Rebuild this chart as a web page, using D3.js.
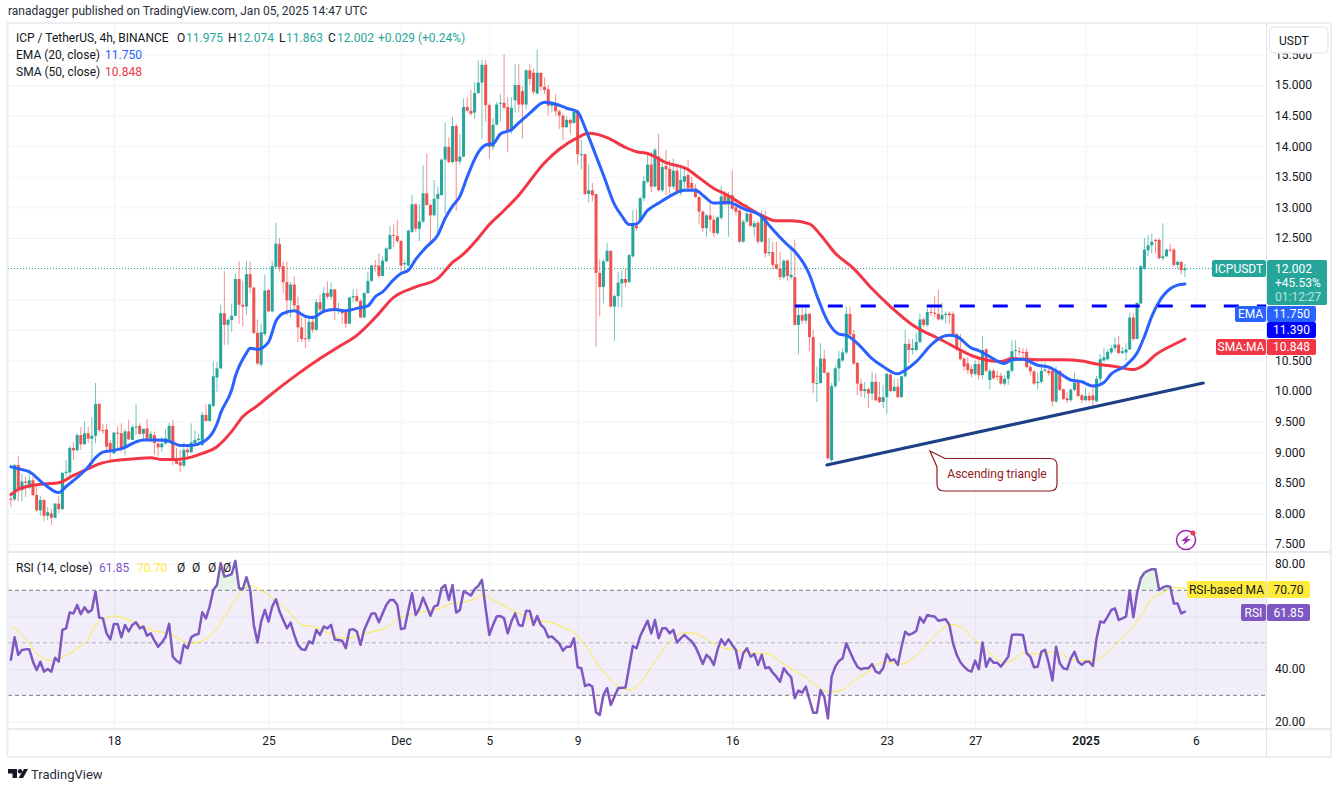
<!DOCTYPE html>
<html>
<head>
<meta charset="utf-8">
<script src="https://d3js.org/d3.v7.min.js"></script>
<style>
  html, body { margin: 0; background: #fff; }
  svg { display: block; }
  text { font-family: Roboto, sans-serif; font-size: 12px; fill: #131722; }
  .tick text { font-family: Roboto, sans-serif; font-size: 12px; fill: #131722; }
  .domain { display: none; }
  .grid line { stroke: #f0f3fa; stroke-width: 1; }
</style>
</head>
<body>
<script>
// 4h candles, index 0 is Nov 13 08:00
var opens = [
8.24,8.23,8.79,8.38,8.52,8.42,8.54,8.30,8.05,8.22,
7.96,8.00,7.93,8.16,8.07,8.66,8.67,9.07,9.03,9.28,
9.13,9.31,9.22,9.27,9.79,9.36,9.37,9.15,8.98,9.32,
9.31,9.07,9.34,9.20,9.41,9.43,9.30,9.39,9.22,9.28,
9.14,9.08,9.14,9.20,9.43,8.88,8.84,8.78,9.04,9.00,
9.15,9.20,9.12,9.61,9.51,9.75,10.22,10.37,11.27,11.08,
11.16,11.23,11.83,11.41,11.38,11.91,11.69,10.95,10.43,10.93,
11.65,11.30,12.03,12.40,12.04,11.78,11.48,11.74,11.40,11.04,
10.86,10.85,11.13,11.00,11.45,11.30,11.60,11.54,11.66,11.33,
11.30,11.30,11.10,11.53,11.55,11.47,11.20,11.60,11.80,12.05,
12.05,11.88,12.12,12.32,12.55,12.53,12.45,12.07,12.05,12.60,
13.05,12.65,12.77,13.23,13.04,12.87,13.14,13.20,13.78,13.99,
13.74,14.33,13.75,13.83,14.64,14.58,14.55,14.87,15.04,15.33,
14.67,13.99,14.35,14.70,14.71,14.64,14.25,14.75,15.00,14.90,
14.68,15.24,15.20,14.86,15.20,14.97,14.93,14.66,14.70,14.57,
14.50,14.31,14.43,14.38,14.58,13.87,13.87,13.22,13.28,13.22,
11.93,11.70,12.12,12.29,11.38,11.55,11.76,11.83,11.78,12.20,
12.70,12.77,13.15,13.42,13.70,13.34,13.83,13.28,13.68,13.63,
13.34,13.60,13.24,13.42,13.53,13.40,13.31,13.17,12.93,12.66,
12.87,12.80,12.58,12.83,13.20,13.05,13.20,13.00,12.95,12.44,
12.77,12.90,12.68,12.75,12.44,12.84,12.25,12.27,12.07,12.00,
11.86,12.13,11.86,11.86,11.08,11.24,11.15,11.26,10.88,10.13,
10.13,10.53,10.30,8.87,10.08,10.37,10.50,10.63,11.26,10.93,
10.46,10.12,10.00,10.03,9.96,10.15,9.90,9.82,9.90,10.27,
10.00,10.07,9.90,10.24,10.77,10.67,10.67,10.80,11.17,11.08,
11.29,11.28,11.26,11.17,11.24,11.27,11.26,10.93,10.68,10.53,
10.45,10.36,10.28,10.44,10.26,10.68,10.18,10.33,10.25,10.25,
10.12,10.20,10.33,10.66,10.65,10.64,10.64,10.39,10.32,10.13,
10.15,10.33,10.33,10.33,9.83,10.33,10.03,9.88,9.85,10.02,
10.18,9.93,9.85,9.92,9.93,9.83,10.20,10.50,10.52,10.63,
10.70,10.76,10.62,10.63,10.68,11.20,10.85,11.43,12.00,12.30,
12.38,12.47,12.47,12.17,12.20,12.31,12.31,12.06,12.11,11.975];
var highs = [
8.33,8.81,8.93,8.65,8.60,8.72,8.60,8.47,8.28,8.23,
8.11,8.08,8.17,8.29,8.68,8.87,9.10,9.16,9.32,9.41,
9.50,9.42,9.57,10.13,9.80,9.46,9.46,9.20,9.33,9.42,
9.47,9.37,9.53,9.45,9.79,9.47,9.39,9.54,9.34,9.34,
9.18,9.25,9.37,9.48,9.53,9.07,9.04,9.16,9.10,9.47,
9.36,9.30,9.66,9.78,9.80,10.48,10.48,11.41,11.96,11.19,
11.43,11.92,12.12,11.80,12.12,12.11,11.70,11.17,11.10,11.90,
11.66,12.13,12.75,12.50,12.11,12.11,11.78,11.87,11.54,11.20,
11.20,11.20,11.24,11.50,11.57,11.70,11.79,11.77,11.67,11.45,
11.32,11.31,11.54,11.67,11.67,11.50,11.61,11.95,12.06,12.14,
12.25,12.20,12.35,12.70,12.72,12.80,12.47,12.14,12.64,13.20,
13.07,13.05,13.69,13.88,13.07,13.45,13.33,13.80,14.38,14.14,
14.48,14.37,14.20,14.78,14.80,14.92,15.05,15.40,15.41,15.41,
14.70,14.46,14.72,14.85,15.50,14.80,14.80,15.34,15.34,14.98,
15.26,15.35,15.27,15.58,15.20,15.12,15.00,14.74,14.85,14.60,
14.53,14.50,14.45,14.60,14.60,14.10,13.88,13.70,13.40,13.22,
12.15,12.15,12.42,12.30,11.58,11.95,11.97,12.00,12.24,12.96,
12.96,13.18,13.52,13.90,13.90,13.97,14.20,13.80,13.94,13.77,
13.80,13.72,13.70,13.66,13.77,13.50,13.38,13.18,12.95,12.90,
13.07,12.87,12.85,13.35,13.27,13.25,13.60,13.10,12.98,12.80,
13.06,13.00,12.78,12.78,12.95,12.95,12.50,12.44,12.44,12.27,
12.15,12.15,12.35,12.47,11.38,11.38,11.38,11.27,11.00,10.40,
10.78,10.67,10.32,10.13,10.42,10.65,10.70,11.38,11.38,11.00,
10.47,10.20,10.15,10.05,10.32,10.29,10.15,10.10,10.30,10.35,
10.20,10.20,10.25,11.00,10.85,10.85,10.95,11.27,11.20,11.35,
11.40,11.55,11.65,11.44,11.30,11.30,11.30,10.95,10.93,10.55,
10.55,10.42,10.50,10.50,10.90,10.70,10.36,10.36,10.33,10.30,
10.26,10.35,10.83,10.83,10.72,10.70,10.70,10.45,10.35,10.30,
10.45,10.47,10.40,10.35,10.40,10.34,10.04,9.98,10.05,10.30,
10.20,9.95,10.05,9.98,10.06,10.25,10.60,10.70,10.68,10.75,
10.88,10.90,10.72,10.78,11.28,11.27,11.45,12.06,12.50,12.55,
12.57,12.49,12.50,12.74,12.33,12.41,12.33,12.13,12.13,12.074];
var lows = [
8.10,8.20,8.20,8.20,8.27,8.39,8.28,8.03,7.96,7.87,
7.89,7.81,7.92,8.00,8.05,8.60,8.60,8.87,9.02,9.04,
9.12,9.15,8.87,9.15,9.33,9.30,9.04,8.87,8.97,9.04,
9.00,8.95,9.20,9.20,9.28,9.28,9.22,9.20,9.16,8.96,
8.93,9.01,9.13,9.19,8.79,8.80,8.67,8.76,8.88,8.98,
9.13,9.12,9.10,9.50,9.50,9.75,9.99,10.36,10.75,10.76,
10.97,11.22,11.10,11.05,11.24,11.60,10.93,10.42,10.40,10.90,
11.30,11.28,12.00,11.95,11.60,11.24,11.20,11.30,10.80,10.80,
10.70,10.80,10.95,10.98,11.27,11.28,11.50,11.50,11.16,11.26,
11.10,11.03,11.10,11.45,11.44,11.20,11.20,11.58,11.78,11.95,
11.85,11.87,12.10,12.30,12.35,12.42,11.95,11.95,12.03,12.58,
12.60,12.45,12.75,13.02,12.40,12.85,12.52,13.20,12.90,13.72,
13.72,12.95,13.70,13.82,14.55,14.50,14.45,14.85,14.12,14.40,
13.80,13.94,14.34,14.40,14.60,13.90,14.20,14.55,14.55,14.13,
14.60,15.00,14.85,14.85,14.90,14.85,14.50,14.55,14.50,14.28,
14.10,14.30,14.20,14.37,13.70,13.62,13.20,13.08,13.10,10.72,
11.22,11.43,12.10,11.36,10.82,11.37,11.36,11.70,11.77,12.18,
12.62,12.75,13.10,13.40,13.25,13.33,13.26,13.25,13.20,13.18,
13.30,13.20,13.20,13.30,13.28,13.28,13.15,12.73,12.60,12.52,
12.60,12.52,12.55,12.80,13.03,12.52,12.95,12.87,12.42,12.42,
12.75,12.68,12.52,12.40,12.42,12.18,12.20,12.00,11.98,11.81,
11.83,11.80,11.82,11.07,10.60,11.10,11.10,10.65,9.97,9.82,
10.12,10.28,8.87,8.84,10.05,10.15,10.47,10.60,10.90,10.43,
9.93,9.90,9.88,9.72,9.85,9.83,9.80,9.72,9.63,9.98,
9.98,9.88,9.89,10.22,10.46,10.60,10.65,10.78,11.05,11.05,
11.22,11.20,11.15,11.15,11.10,11.10,10.90,10.65,10.50,10.33,
10.28,10.22,10.25,10.18,10.20,10.30,10.03,10.18,10.17,10.10,
10.08,10.10,10.30,10.55,10.58,10.55,10.37,10.25,10.10,10.03,
10.12,10.30,10.25,9.75,9.80,10.00,9.85,9.80,9.82,10.00,
9.90,9.80,9.83,9.82,9.72,9.82,10.15,10.48,10.50,10.60,
10.65,10.60,10.60,10.50,10.67,10.82,10.85,11.42,11.98,12.20,
12.25,12.25,12.15,12.13,12.19,12.27,12.03,12.00,11.90,11.863];
var closes = [
8.22,8.79,8.38,8.52,8.50,8.54,8.30,8.05,8.22,7.96,
8.02,7.93,8.16,8.07,8.66,8.68,9.07,9.03,9.28,9.13,
9.31,9.22,9.27,9.79,9.36,9.35,9.09,9.04,9.32,9.31,
9.05,9.34,9.21,9.41,9.42,9.30,9.38,9.22,9.30,9.15,
9.08,9.14,9.23,9.43,8.88,8.81,8.78,9.04,9.00,9.16,
9.20,9.22,9.61,9.51,9.78,10.24,10.37,11.27,11.08,11.16,
11.23,11.83,11.41,11.38,11.91,11.69,10.95,10.45,10.96,11.64,
11.30,12.04,12.41,12.02,11.78,11.48,11.74,11.40,11.04,10.85,
10.85,11.13,11.00,11.45,11.33,11.60,11.54,11.66,11.33,11.33,
11.27,11.10,11.53,11.55,11.47,11.20,11.60,11.80,12.05,12.04,
11.88,12.13,12.33,12.55,12.54,12.45,12.05,12.09,12.62,13.05,
12.65,12.77,13.23,13.04,12.87,13.14,13.22,13.78,13.99,13.74,
14.33,13.75,13.83,14.64,14.58,14.53,14.87,15.04,15.33,14.67,
13.99,14.35,14.68,14.71,14.63,14.25,14.63,15.00,14.68,14.68,
15.24,15.10,14.89,15.20,14.97,14.92,14.66,14.70,14.57,14.50,
14.31,14.43,14.37,14.56,13.87,13.87,13.22,13.28,13.20,11.93,
11.70,12.12,12.29,11.38,11.55,11.77,11.83,11.77,12.22,12.70,
12.66,13.15,13.43,13.70,13.34,13.94,13.28,13.66,13.62,13.34,
13.60,13.24,13.45,13.51,13.31,13.31,13.17,12.93,12.66,12.87,
12.80,12.58,12.84,13.18,13.05,13.19,12.98,12.93,12.44,12.77,
12.90,12.70,12.74,12.44,12.84,12.25,12.27,12.06,12.00,11.86,
12.13,11.88,11.90,11.08,11.24,11.15,11.26,10.88,10.13,10.13,
10.53,10.30,8.90,10.08,10.37,10.53,10.63,11.26,10.92,10.45,
10.12,10.00,10.03,9.96,10.15,9.85,9.82,9.90,10.28,10.00,
10.07,9.90,10.24,10.77,10.67,10.70,10.80,11.17,11.08,11.29,
11.28,11.26,11.17,11.24,11.26,11.24,10.93,10.68,10.52,10.40,
10.34,10.28,10.44,10.26,10.67,10.33,10.33,10.21,10.23,10.12,
10.20,10.33,10.65,10.67,10.64,10.62,10.39,10.32,10.12,10.15,
10.33,10.35,10.29,9.83,10.33,10.02,9.87,9.85,10.02,10.13,
9.92,9.85,9.92,9.85,9.85,10.20,10.52,10.55,10.64,10.70,
10.76,10.62,10.65,10.68,11.20,10.85,11.44,12.04,12.31,12.38,
12.44,12.45,12.17,12.20,12.31,12.30,12.06,12.11,11.975,12.002];

var emaAt = [0,2,5,9,13,15,19,21,23,25,28,31,34,36,40,43,46,49,52,55,56,57,60,61,64,65,67,70,72,74,77,80,82,85,88,91,94,97,99,101,104,106,108,110,113,116,118,120,122,124,127,129,131,133,136,138,141,145,148,151,154,156,159,161,164,166,168,170,173,176,179,183,186,188,191,195,199,204,206,211,213,217,219,222,225,227,230,234,237,241,243,246,250,252,255,257,261,263,266,270,272,275,279,282,285,288,291,294,297,299,303,306,308,310,312,315,317,319];
var emaValues = [8.76,8.73,8.68,8.48,8.34,8.44,8.64,8.76,8.91,9.0,9.03,9.08,9.17,9.2,9.2,9.18,9.11,9.11,9.16,9.34,9.46,9.64,10.02,10.24,10.62,10.7,10.68,10.8,11.14,11.27,11.31,11.22,11.2,11.3,11.33,11.31,11.35,11.39,11.54,11.62,11.82,11.92,11.97,12.15,12.36,12.55,12.82,13.02,13.18,13.5,13.9,14.02,14.04,14.2,14.27,14.38,14.54,14.72,14.69,14.62,14.56,14.3,13.84,13.53,13.05,12.86,12.72,12.73,12.95,13.07,13.18,13.28,13.28,13.2,13.07,13.08,12.98,12.85,12.71,12.39,12.28,11.9,11.56,11.13,10.93,10.91,10.78,10.53,10.4,10.28,10.34,10.48,10.75,10.85,10.91,10.89,10.7,10.66,10.56,10.45,10.51,10.52,10.42,10.39,10.29,10.18,10.15,10.08,10.14,10.28,10.42,10.62,10.89,11.22,11.46,11.67,11.73,11.75];

// SMA 50
var smaAt = [0,2,5,9,13,17,21,24,29,33,38,41,45,49,52,56,60,63,67,70,74,78,84,89,94,99,104,110,116,120,123,127,130,134,138,145,149,154,157,162,167,170,173,178,184,186,191,195,199,204,208,212,217,220,224,229,234,239,245,253,257,261,264,269,272,276,281,286,291,295,300,305,308,311,316,319];
var smaValues = [8.31,8.39,8.45,8.48,8.5,8.62,8.73,8.81,8.87,8.89,8.91,8.88,8.88,8.92,8.98,9.09,9.34,9.58,9.76,9.91,10.1,10.28,10.53,10.72,10.91,11.2,11.53,11.7,11.84,12.1,12.24,12.5,12.72,12.95,13.2,13.73,13.95,14.14,14.21,14.14,13.98,13.91,13.88,13.73,13.62,13.53,13.31,13.19,13.04,12.87,12.78,12.78,12.73,12.55,12.25,12.0,11.67,11.38,11.08,10.83,10.7,10.58,10.52,10.48,10.53,10.52,10.51,10.51,10.49,10.44,10.4,10.35,10.43,10.59,10.76,10.85];

var rsiValues = [
43.5,52.1,45.4,47.3,47.5,47.5,42.8,39.6,42.8,39.0,
40.0,39.0,44.3,42.8,54.9,55.5,61.6,61.2,64.4,60.9,
63.5,61.6,62.5,69.5,59.6,59.3,53.6,51.3,57.2,57.2,
52.1,56.8,54.3,56.8,57.8,55.5,56.2,52.7,53.6,50.8,
48.5,50.1,52.1,57.2,44.7,43.2,42.2,49.2,47.9,52.1,
53.0,53.4,61.6,59.3,63.8,70.1,72.0,80.3,75.2,75.6,
76.2,81.2,70.8,70.4,75.0,70.4,56.8,50.1,58.1,62.5,
58.1,63.8,66.6,61.9,58.7,55.5,57.7,53.0,49.2,47.5,
47.3,50.5,49.8,54.9,53.0,56.2,55.5,56.8,51.3,51.1,
50.8,47.9,54.9,55.2,54.3,49.2,54.9,58.1,61.2,61.2,
57.8,61.2,64.4,66.3,66.3,64.4,55.2,55.5,62.5,68.9,
60.6,63.1,67.2,63.8,60.3,63.8,64.4,70.8,72.0,66.3,
72.0,61.5,62.5,69.5,68.9,68.0,70.4,71.7,74.0,63.1,
53.0,56.8,60.0,60.2,59.3,53.6,58.1,61.2,56.8,56.4,
62.2,62.1,56.8,60.2,56.8,55.5,52.1,52.4,51.1,49.8,
47.0,48.5,48.5,51.7,40.7,40.3,33.5,34.2,33.3,23.5,
22.5,30.1,32.7,26.3,29.5,32.7,32.9,33.0,40.9,48.8,
47.9,52.6,55.5,58.4,53.6,58.7,51.7,55.5,55.5,53.6,
54.9,50.1,51.7,53.0,51.7,50.5,48.5,45.4,41.9,45.4,
44.1,41.6,47.3,51.3,49.2,51.3,49.2,47.3,40.3,46.0,
47.9,44.7,45.7,41.6,45.4,40.3,40.7,38.6,37.1,35.2,
40.3,38.4,36.9,28.9,31.8,31.0,33.3,28.2,23.4,23.4,
32.0,29.5,21.2,37.1,40.9,43.1,44.1,49.8,46.6,43.5,
40.9,39.9,40.3,40.3,41.9,39.0,38.4,40.3,45.7,43.2,
43.7,41.6,48.5,54.2,53.0,53.6,54.5,59.7,57.7,60.6,
60.2,60.0,58.4,58.7,59.0,56.8,49.8,45.4,42.6,40.9,
39.6,39.0,43.2,39.9,50.1,40.9,44.1,42.4,42.4,40.9,
42.8,44.7,53.0,53.2,53.1,53.0,46.0,44.7,40.7,40.9,
46.6,47.3,42.2,35.6,48.5,42.2,40.3,39.9,44.1,46.6,
42.8,41.6,42.8,42.8,41.2,51.7,58.1,57.7,60.0,62.5,
63.1,58.7,59.3,60.0,69.9,59.7,68.9,74.6,76.7,77.5,
78.0,78.0,70.1,71.1,71.6,71.4,65.0,65.0,61.2,61.85];

var rsiMaAt = [0,1,4,7,11,14,18,21,23,26,28,31,33,36,39,43,46,49,52,56,59,62,65,68,72,76,79,82,85,88,91,95,99,102,105,108,112,116,120,123,126,128,131,135,139,142,146,150,153,156,161,165,168,171,175,179,183,186,190,193,197,201,206,210,215,219,222,226,229,232,236,238,242,245,248,251,254,255,258,261,264,267,270,273,275,279,284,288,291,295,298,302,304,307,310,313,316,319];
var rsiMaValues = [56.3,55.5,51.5,46.0,43.3,44.5,47.9,51.5,56.8,59.6,60.2,59.2,58.2,56.2,54.5,53.6,51.3,49.8,50.8,55.5,62.1,68.4,71.7,70.1,65.9,61.2,56.9,56.2,54.5,52.6,51.7,53.0,54.5,55.8,59.1,60.6,61.9,62.8,65.0,65.4,66.7,68.2,66.4,63.5,60.6,58.4,58.0,55.9,53.9,49.2,39.0,33.6,32.0,34.8,42.8,50.4,53.9,53.6,50.4,48.3,47.3,46.2,45.7,41.8,37.7,33.6,31.3,32.0,35.6,38.1,42.2,42.6,41.9,44.1,47.9,52.6,56.2,57.0,56.2,52.1,48.8,44.7,42.4,44.1,46.2,45.7,46.6,43.8,43.2,43.5,46.6,52.1,54.9,60.2,66.9,69.2,71.1,70.7];

var priceTicks = [7.5,8,8.5,9,9.5,10,10.5,11,11.5,12,12.5,13,13.5,14,14.5,15,15.5];
// the axis tags sit where 11, 11.5, 12 and 60 would be, so those have no label
var priceLabels = [7.5,8,8.5,9,9.5,10,10.5,12.5,13,13.5,14,14.5,15,15.5];
var rsiGrid = [20,40,60,80];
var rsiLabels = [20,40,80];
var dayTicks = [28,70,106,130,154,196,238,262,292,322];
var dayLabels = ['18','25','Dec','5','9','16','23','27','2025','6'];
var resistance = 11.39;
var lastClose = 12.002;
var trendAt = [221.7,324];
var trendValues = [8.79,10.13];

var UP = '#26a69a', DOWN = '#ef5350', BLUE = '#2962ff', RED = '#f23645',
    PURPLE = '#7e57c2', YELLOW = '#ffeb3b', GRIDLINE = '#e0e3eb';

var width = 1338, height = 787;
var left = 8, right = 1266.5, mainTop = 24, mainBottom = 552, rsiBottom = 729, bottom = 757, frameRight = 1331;

var x = d3.scaleLinear().domain([0, 319]).range([10.9, 1184.9]);
var y = d3.scaleLinear().domain([7.5, 15.5]).range([544, 54.4]);
var yRsi = d3.scaleLinear().domain([30, 70]).range([695.3, 590.3]);

var svg = d3.select('body').append('svg').attr('width', width).attr('height', height);

// clips
var defs = svg.append('defs');
defs.append('clipPath').attr('id', 'clipMain').append('rect')
  .attr('x', left).attr('y', mainTop).attr('width', right - left).attr('height', mainBottom - mainTop);
defs.append('clipPath').attr('id', 'clipRsi').append('rect')
  .attr('x', left).attr('y', mainBottom).attr('width', right - left).attr('height', rsiBottom - mainBottom);
defs.append('clipPath').attr('id', 'clipOver').append('rect')
  .attr('x', left).attr('y', mainBottom).attr('width', right - left).attr('height', yRsi(70) - mainBottom);
defs.append('clipPath').attr('id', 'clipUnder').append('rect')
  .attr('x', left).attr('y', yRsi(30)).attr('width', right - left).attr('height', rsiBottom - yRsi(30));
var overGrad = defs.append('linearGradient').attr('id', 'overFill').attr('x1', 0).attr('x2', 0).attr('y1', 0).attr('y2', 1);
overGrad.append('stop').attr('offset', '0%').attr('stop-color', '#4caf50').attr('stop-opacity', 0.16);
overGrad.append('stop').attr('offset', '100%').attr('stop-color', '#4caf50').attr('stop-opacity', 0.02);

// grid, from the axes themselves
svg.append('g').attr('class', 'grid').attr('transform', 'translate(' + left + ',0)')
  .call(d3.axisRight(y).tickValues(priceTicks).tickSize(right - left).tickFormat(''));
svg.append('g').attr('class', 'grid').attr('transform', 'translate(' + left + ',0)')
  .call(d3.axisRight(yRsi).tickValues(rsiGrid).tickSize(right - left).tickFormat(''));
svg.append('g').attr('class', 'grid').attr('transform', 'translate(0,' + mainTop + ')')
  .call(d3.axisBottom(x).tickValues(dayTicks).tickSize(mainBottom - mainTop).tickFormat(''));
svg.append('g').attr('class', 'grid').attr('transform', 'translate(0,' + mainBottom + ')')
  .call(d3.axisBottom(x).tickValues(dayTicks).tickSize(rsiBottom - mainBottom).tickFormat(''));

// last price line
svg.append('line').attr('x1', left).attr('x2', 1212).attr('y1', y(lastClose)).attr('y2', y(lastClose))
  .attr('stroke', UP).attr('stroke-width', 1).attr('stroke-dasharray', '1 2');

// candles
var main = svg.append('g').attr('clip-path', 'url(#clipMain)');
var candles = main.selectAll('g.candle').data(d3.range(closes.length)).enter().append('g').attr('class', 'candle');
candles.append('line')
  .attr('x1', function(i) { return x(i); }).attr('x2', function(i) { return x(i); })
  .attr('y1', function(i) { return y(highs[i]); }).attr('y2', function(i) { return y(lows[i]); })
  .attr('stroke', function(i) { return closes[i] >= opens[i] ? UP : DOWN; })
  .attr('stroke-opacity', 0.65).attr('stroke-width', 1);
candles.append('rect')
  .attr('x', function(i) { return x(i) - 1.5; }).attr('width', 3)
  .attr('y', function(i) { return y(Math.max(opens[i], closes[i])); })
  .attr('height', function(i) { return Math.max(1, Math.abs(y(opens[i]) - y(closes[i]))); })
  .attr('fill', function(i) { return closes[i] >= opens[i] ? UP : DOWN; });

function drawLine(parent, at, values, scale, color, w, curve) {
  var line = d3.line().x(function(d) { return x(d); })
    .y(function(d, i) { return scale(values[i]); }).curve(curve || d3.curveLinear);
  return parent.append('path').attr('d', line(at)).attr('fill', 'none')
    .attr('stroke', color).attr('stroke-width', w).attr('stroke-linejoin', 'round').attr('stroke-linecap', 'round');
}
drawLine(main, smaAt, smaValues, y, RED, 3, d3.curveMonotoneX);
drawLine(main, emaAt, emaValues, y, BLUE, 3, d3.curveMonotoneX);

// resistance and ascending trend line
main.append('line').attr('x1', x(213)).attr('x2', right).attr('y1', y(resistance)).attr('y2', y(resistance))
  .attr('stroke', '#0000ff').attr('stroke-width', 3).attr('stroke-dasharray', '15 18');
drawLine(main, trendAt, trendValues, y, '#1c3f85', 3);

// callout
var co = svg.append('g');
co.append('path')
  .attr('d', 'M945 458.5 L930 451 L937 467 L937 484 Q937 491 944 491 L1050 491 Q1057 491 1057 484 L1057 465.5 Q1057 458.5 1050 458.5 Z')
  .attr('fill', '#fff').attr('stroke', '#8e1b1f').attr('stroke-width', 1.2);
co.append('text').attr('x', 997).attr('y', 478).attr('text-anchor', 'middle')
  .style('font-size', '12px').style('fill', '#8e1b1f').text('Ascending triangle');

// zap icon
var zap = svg.append('g').attr('transform', 'translate(1186,540)');
zap.append('circle').attr('r', 9.5).attr('fill', '#fff').attr('stroke', '#9c27b0').attr('stroke-width', 1.5);
zap.append('path').attr('d', 'M3 -5 L-5 1 L-1 1 L-3 5 L5 -1 L1 -1 Z').attr('fill', '#9c27b0');
zap.append('circle').attr('cx', 7).attr('cy', -7).attr('r', 2.5).attr('fill', RED);

// RSI pane
svg.append('rect').attr('x', left).attr('width', right - left)
  .attr('y', yRsi(70)).attr('height', yRsi(30) - yRsi(70)).attr('fill', PURPLE).attr('fill-opacity', 0.1);
[70, 50, 30].forEach(function(level) {
  svg.append('line').attr('x1', left).attr('x2', right).attr('y1', yRsi(level)).attr('y2', yRsi(level))
    .attr('stroke', '#787b86').attr('stroke-opacity', level === 50 ? 0.5 : 1)
    .attr('stroke-width', 1).attr('stroke-dasharray', '4 3');
});
var rsiPane = svg.append('g').attr('clip-path', 'url(#clipRsi)');
var areaOver = d3.area().x(function(i) { return x(i); }).y0(yRsi(70)).y1(function(i) { return yRsi(rsiValues[i]); });
var idx = d3.range(rsiValues.length);
svg.append('path').attr('clip-path', 'url(#clipOver)').attr('d', areaOver(idx)).attr('fill', 'url(#overFill)');
var areaUnder = d3.area().x(function(i) { return x(i); }).y0(yRsi(30)).y1(function(i) { return yRsi(rsiValues[i]); });
svg.append('path').attr('clip-path', 'url(#clipUnder)').attr('d', areaUnder(idx)).attr('fill', '#ef5350').attr('fill-opacity', 0.06);
drawLine(rsiPane, rsiMaAt, rsiMaValues, yRsi, YELLOW, 1, d3.curveMonotoneX);
drawLine(rsiPane, idx, rsiValues, yRsi, PURPLE, 2.5);

// frame
svg.append('rect').attr('x', 7.5).attr('y', mainTop - 1).attr('width', frameRight - 7.5).attr('height', bottom - mainTop + 1)
  .attr('fill', 'none').attr('stroke', '#eceef3').attr('stroke-width', 2);
[mainBottom, rsiBottom].forEach(function(yy) {
  svg.append('line').attr('x1', left).attr('x2', frameRight).attr('y1', yy).attr('y2', yy)
    .attr('stroke', GRIDLINE).attr('stroke-width', 1.5);
});
svg.append('line').attr('x1', right).attr('x2', right).attr('y1', mainTop).attr('y2', bottom)
  .attr('stroke', GRIDLINE).attr('stroke-width', 1);

// axes
svg.append('g').attr('transform', 'translate(1275,0)')
  .call(d3.axisRight(y).tickValues(priceLabels).tickSize(0).tickPadding(0).tickFormat(d3.format('.3f')));
svg.append('g').attr('transform', 'translate(1275,0)')
  .call(d3.axisRight(yRsi).tickValues(rsiLabels).tickSize(0).tickPadding(0).tickFormat(d3.format('.2f')));
var axisTime = svg.append('g').attr('transform', 'translate(0,736)')
  .call(d3.axisBottom(x).tickValues(dayTicks).tickSize(0).tickPadding(0)
    .tickFormat(function(d, i) { return dayLabels[i]; }));
axisTime.selectAll('text').style('font-weight', function(d, i) { return dayLabels[i] === '2025' ? 600 : 400; });

// USDT button over the top tick
svg.append('rect').attr('x', 1269.5).attr('y', 27).attr('width', 58.5).attr('height', 26).attr('rx', 5)
  .attr('fill', '#fff').attr('stroke', '#e9ebf2').attr('stroke-width', 1.5);
svg.append('text').attr('x', 1279).attr('y', 45).text('USDT');

// price labels on the axis
function tag(x0, y0, w, h, fill, label, color, r) {
  svg.append('rect').attr('x', x0).attr('y', y0).attr('width', w).attr('height', h).attr('rx', r || 2).attr('fill', fill);
  svg.append('text').attr('x', x0 + w / 2).attr('y', y0 + h / 2 + 4).attr('text-anchor', 'middle')
    .style('fill', color).text(label);
}
tag(1212, 260, 54, 17, UP, 'ICPUSDT', '#fff');
svg.append('rect').attr('x', 1267).attr('y', 260).attr('width', 60).attr('height', 45).attr('rx', 2).attr('fill', UP);
svg.append('text').attr('x', 1275).attr('y', 273).style('fill', '#fff').text('12.002');
svg.append('text').attr('x', 1275).attr('y', 287).style('fill', '#fff').text('+45.53%');
svg.append('text').attr('x', 1275).attr('y', 301).style('fill', '#fff').style('fill-opacity', 0.7).text('01:12:27');
tag(1235, 306, 31, 16, BLUE, 'EMA', '#fff');
tag(1267, 306, 49, 16, BLUE, '11.750', '#fff');
tag(1267, 322, 49, 16, '#0000ff', '11.390', '#fff');
tag(1216, 339, 50, 16, RED, 'SMA:MA', '#fff');
tag(1267, 339, 49, 16, RED, '10.848', '#fff');
tag(1187, 581, 79, 17, YELLOW, 'RSI-based MA', '#131722');
tag(1267, 581, 43, 17, YELLOW, '70.70', '#131722');
tag(1241, 604, 25, 17, PURPLE, 'RSI', '#fff');
tag(1267, 604, 43, 17, PURPLE, '61.85', '#fff');

// header and legends
function label(xp, yp, txt, color) {
  return svg.append('text').attr('x', xp).attr('y', yp).style('fill', color || '#131722').text(txt);
}
label(8, 15, 'ranadagger published on TradingView.com, Jan 05, 2025 14:47 UTC', '#2a2e39');
label(16, 42, 'ICP / TetherUS, 4h, BINANCE');
label(177, 42, 'O'); label(186, 42, '11.975', UP);
label(228, 42, 'H'); label(237, 42, '12.074', UP);
label(279, 42, 'L'); label(286, 42, '11.863', UP);
label(328, 42, 'C'); label(337, 42, '12.002', UP);
label(378, 42, '+0.029 (+0.24%)', UP);
label(16, 59, 'EMA (20, close)'); label(105, 59, '11.750', BLUE);
label(16, 76, 'SMA (50, close)'); label(105, 76, '10.848', RED);
label(16, 572, 'RSI (14, close)'); label(99, 572, '61.85', PURPLE); label(137, 572, '70.70', YELLOW);
[177, 192, 208, 223].forEach(function(xp) { label(xp, 572, '\u00d8'); });

// TradingView mark
var logo = svg.append('g').attr('transform', 'translate(8,769)').attr('fill', '#131722');
logo.append('path').attr('d', 'M0 0 H9 V9 H4.5 V4.5 H0 Z');
logo.append('circle').attr('cx', 12).attr('cy', 2.2).attr('r', 2.2);
logo.append('path').attr('d', 'M16 0 H20 L15 9 H10.5 Z');
svg.append('text').attr('x', 31).attr('y', 779).style('font-size', '13px').style('fill', '#2a2e39').text('TradingView');
</script>
</body>
</html>
